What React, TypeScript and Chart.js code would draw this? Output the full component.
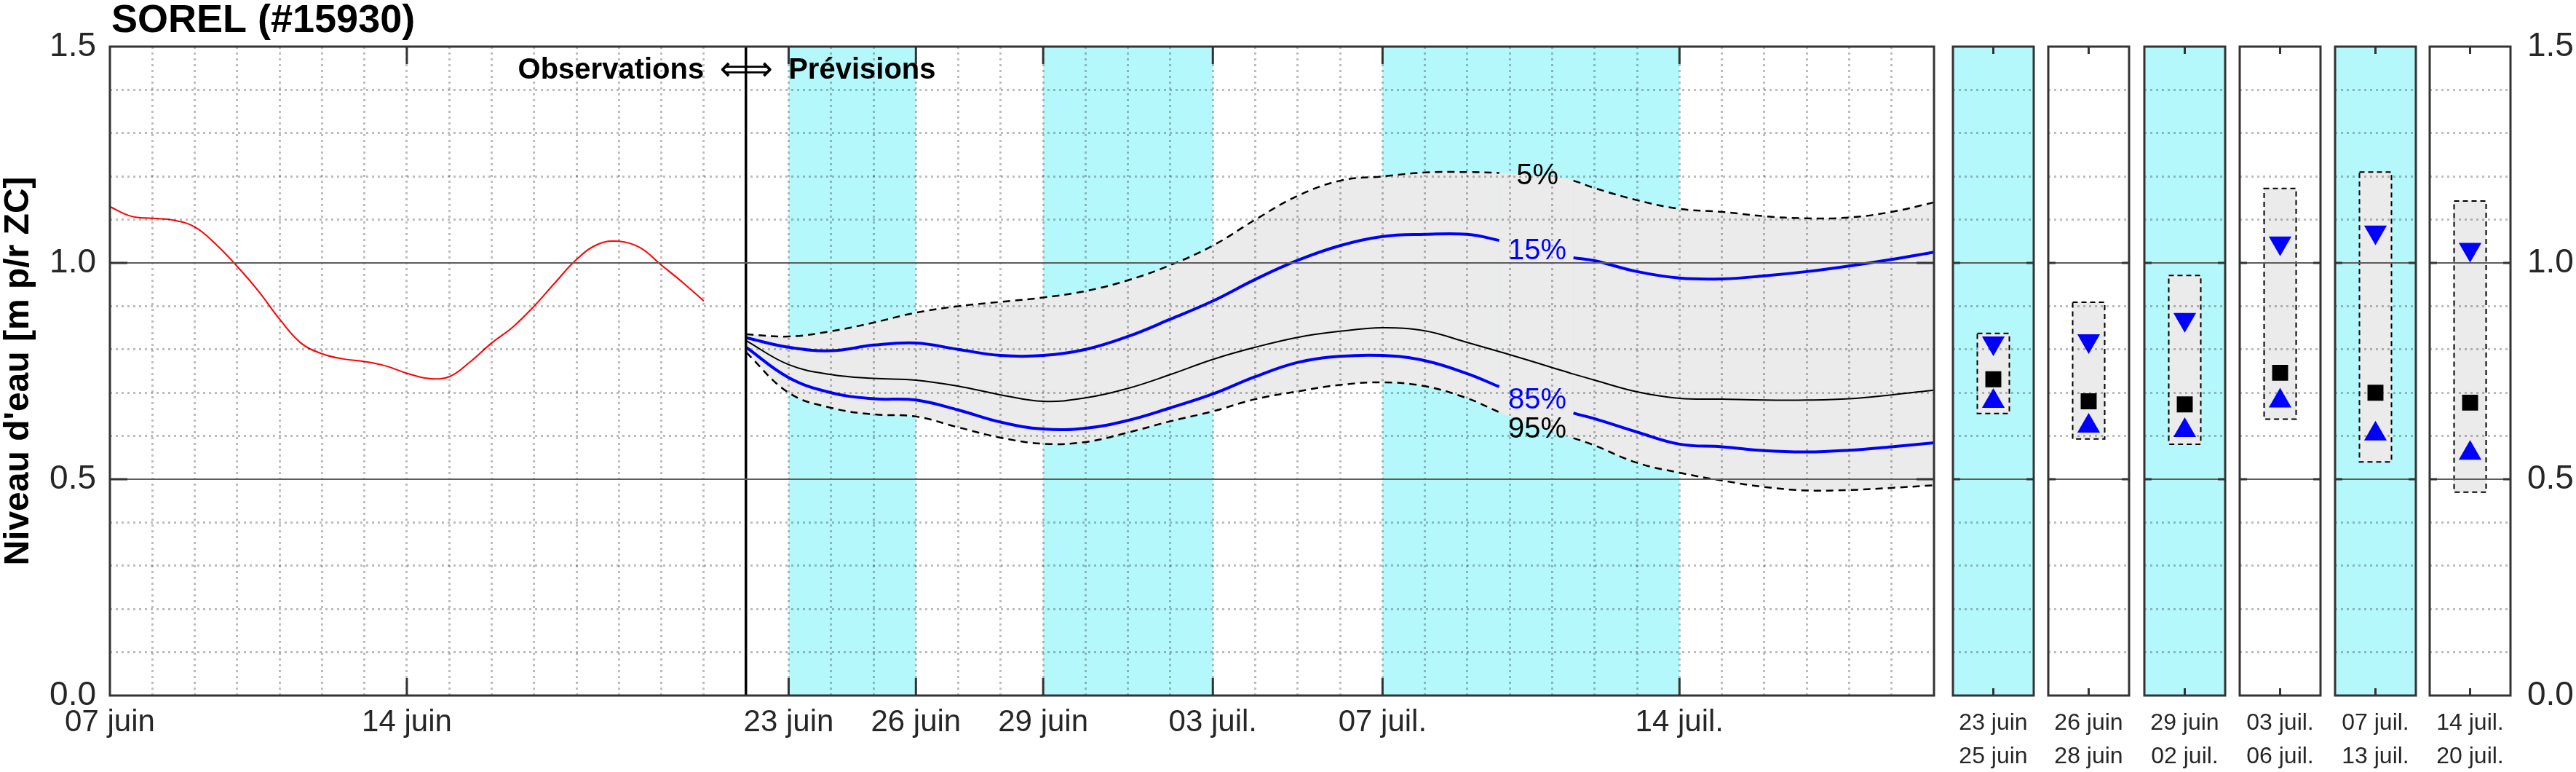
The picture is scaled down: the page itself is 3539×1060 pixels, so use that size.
import React, { useEffect, useRef } from 'react';
import { Chart, registerables } from 'chart.js';

Chart.register(...registerables);

const FONT = "'Liberation Sans', Arial, Helvetica, sans-serif";
Chart.defaults.font.family = FONT;

// ---------------- DATA ----------------
const stationTitle = 'SOREL (#15930)';
const yAxisTitle = "Niveau d'eau [m p/r ZC]";

// days counted from 07 juin 00h
const dayMin = 0;
const dayMax = 43;
const forecastStartDay = 15;

const xTickDays = [0, 7, 16, 19, 22, 26, 30, 37];
const xTickLabels = ['07 juin', '14 juin', '23 juin', '26 juin', '29 juin', '03 juil.', '07 juil.', '14 juil.'];

const yLabelValues = [0, 0.5, 1.0, 1.5];

const bandStartDays = [16, 22, 30];
const bandEndDays = [19, 26, 37];

const obsDays = [0, 0.5, 1, 1.5, 2, 2.5, 3, 3.5, 4, 4.5, 5, 5.5, 6, 6.5, 7, 7.5, 8, 8.5, 9, 9.5, 10, 10.5, 11, 11.5, 12, 12.5, 13, 13.5, 14];
const obsLevels = [1.13, 1.108, 1.103, 1.099, 1.083, 1.043, 0.992, 0.935, 0.87, 0.815, 0.79, 0.778, 0.772, 0.762, 0.745, 0.733, 0.737, 0.772, 0.815, 0.852, 0.9, 0.955, 1.008, 1.043, 1.05, 1.035, 0.995, 0.955, 0.912];

const fcDays = [15, 16, 17, 18, 19, 20, 21, 22, 23, 24, 25, 26, 27, 28, 29, 30, 31, 32, 32.75, 33, 34, 34.5, 35, 36, 37, 38, 39, 40, 41, 42, 43];
const q05 = [0.835, 0.83, 0.842, 0.862, 0.885, 0.9, 0.91, 0.92, 0.935, 0.96, 0.995, 1.04, 1.1, 1.155, 1.19, 1.2, 1.209, 1.21, 1.208, 1.207, 1.2, 1.19, 1.173, 1.145, 1.125, 1.118, 1.108, 1.103, 1.105, 1.118, 1.14];
const q15 = [0.827, 0.805, 0.797, 0.81, 0.815, 0.8, 0.786, 0.786, 0.8, 0.83, 0.87, 0.912, 0.962, 1.006, 1.04, 1.061, 1.066, 1.066, 1.052, 1.045, 1.022, 1.012, 1.005, 0.98, 0.965, 0.963, 0.97, 0.98, 0.993, 1.008, 1.025];
const q50 = [0.82, 0.765, 0.742, 0.733, 0.729, 0.715, 0.695, 0.68, 0.688, 0.71, 0.742, 0.777, 0.805, 0.828, 0.842, 0.85, 0.843, 0.816, 0.795, 0.788, 0.758, 0.743, 0.729, 0.702, 0.687, 0.685, 0.683, 0.683, 0.686, 0.695, 0.706];
const q85 = [0.805, 0.735, 0.7, 0.686, 0.683, 0.66, 0.632, 0.616, 0.618, 0.636, 0.665, 0.697, 0.737, 0.77, 0.784, 0.786, 0.774, 0.744, 0.714, 0.705, 0.67, 0.653, 0.64, 0.609, 0.581, 0.575, 0.566, 0.563, 0.567, 0.575, 0.584];
const q95 = [0.793, 0.7, 0.665, 0.65, 0.645, 0.62, 0.596, 0.582, 0.586, 0.608, 0.634, 0.657, 0.685, 0.703, 0.718, 0.724, 0.715, 0.687, 0.655, 0.645, 0.61, 0.595, 0.578, 0.538, 0.515, 0.497, 0.482, 0.474, 0.475, 0.48, 0.486];

const pctLabels = ['5%', '15%', '85%', '95%'];
const pctLabelColors = ['#000000', '#0000ff', '#0000ff', '#000000'];
const pctLabelDay = 33.65;
const pctLabelLevels = [1.2, 1.027, 0.682, 0.614];
const labelGapStart = 32.75;
const labelGapEnd = 34.5;

const panelLabels = [
  ['23 juin', '25 juin'],
  ['26 juin', '28 juin'],
  ['29 juin', '02 juil.'],
  ['03 juil.', '06 juil.'],
  ['07 juil.', '13 juil.'],
  ['14 juil.', '20 juil.'],
];
const panelQ05 = [0.837, 0.909, 0.971, 1.172, 1.21, 1.143];
const panelQ15 = [0.815, 0.82, 0.869, 1.046, 1.071, 1.031];
const panelQ50 = [0.731, 0.68, 0.673, 0.746, 0.7, 0.677];
const panelQ85 = [0.68, 0.623, 0.613, 0.681, 0.605, 0.56];
const panelQ95 = [0.652, 0.593, 0.581, 0.639, 0.54, 0.47];
const panelShaded = [true, false, true, false, true, false];

// ---------------- LAYOUT / STYLE ----------------
const W = 3539;
const H = 1060;
const PLOT_TOP = 64;
const PLOT_BOTTOM = 955;
const MAIN_LEFT = 151;
const MAIN_RIGHT = 2657;
const MAIN_CANVAS_W = 2680;
const PANEL_LEFTS = [2683, 2814, 2946, 3077, 3208, 3338];
const PANEL_W = 111;
const PANEL_PAD = 22;

const CYAN = '#b4f8fb';
const FILL_GRAY = '#ebebeb';
const FRAME = '#333333';
const TICK_COLOR = '#262626';
const DOT_COLOR = 'rgba(0,0,0,0.26)';
const MAJOR_COLOR = '#5c5c5c';
const BLUE = '#0000ff';

const yTickIndex = (c: any) => (c && c.tick ? Math.round(c.tick.value * 10) : -1);

const yGrid = {
  color: (c: any) => {
    const k = yTickIndex(c);
    if (k <= 0 || k >= 15) return 'rgba(0,0,0,0)';
    return k % 5 === 0 ? MAJOR_COLOR : DOT_COLOR;
  },
  lineWidth: (c: any) => (yTickIndex(c) % 5 === 0 ? 2 : 3),
  drawTicks: false,
  z: 1,
};
const yBorder = {
  display: false,
  dash: (c: any) => {
    const k = yTickIndex(c);
    return k % 5 === 0 ? [] : [3, 5];
  },
};
const yTickCallback = (v: any) => {
  const n = Number(v);
  return yLabelValues.some((t) => Math.abs(t - n) < 1e-6) ? n.toFixed(1) : '';
};

function framePlugin(tickLen: number, xTickVals: number[], yTickVals: number[]) {
  return {
    id: 'frame',
    afterDraw(chart: any) {
      const { ctx, chartArea: a, scales } = chart;
      ctx.save();
      ctx.strokeStyle = FRAME;
      ctx.lineWidth = 3;
      ctx.setLineDash([]);
      ctx.beginPath();
      for (const v of xTickVals) {
        const px = scales.x.getPixelForValue(v);
        ctx.moveTo(px, a.top);
        ctx.lineTo(px, a.top + tickLen);
        ctx.moveTo(px, a.bottom);
        ctx.lineTo(px, a.bottom - tickLen);
      }
      for (const v of yTickVals) {
        const py = scales.y.getPixelForValue(v);
        ctx.moveTo(a.left, py);
        ctx.lineTo(a.left + tickLen, py);
        ctx.moveTo(a.right, py);
        ctx.lineTo(a.right - tickLen, py);
      }
      ctx.stroke();
      ctx.strokeRect(a.left, a.top, a.right - a.left, a.bottom - a.top);
      ctx.restore();
    },
  };
}

const mainBackground = {
  id: 'mainBackground',
  beforeDraw(chart: any) {
    const { ctx, chartArea: a, scales } = chart;
    ctx.save();
    ctx.fillStyle = '#ffffff';
    ctx.fillRect(a.left, a.top, a.right - a.left, a.bottom - a.top);
    ctx.fillStyle = CYAN;
    for (let i = 0; i < bandStartDays.length; i++) {
      const x0 = scales.x.getPixelForValue(bandStartDays[i]);
      const x1 = scales.x.getPixelForValue(bandEndDays[i]);
      ctx.fillRect(x0, a.top, x1 - x0, a.bottom - a.top);
    }
    ctx.restore();
  },
};

const mainTexts = {
  id: 'mainTexts',
  afterDraw(chart: any) {
    const { ctx, chartArea: a, scales } = chart;
    ctx.save();
    ctx.fillStyle = '#000';
    ctx.textAlign = 'left';
    ctx.textBaseline = 'alphabetic';
    ctx.font = `bold 54px ${FONT}`;
    ctx.fillText(stationTitle, a.left + 2, 44);

    const px = scales.x.getPixelForValue(forecastStartDay);
    const ty = 97;
    ctx.textBaseline = 'middle';
    ctx.font = `46px 'DejaVu Sans', sans-serif`;
    ctx.textAlign = 'right';
    ctx.fillText('⇐', px + 2, ty + 1);
    ctx.textAlign = 'left';
    ctx.fillText('⇒', px - 2, ty + 1);
    ctx.font = `bold 40px ${FONT}`;
    ctx.textAlign = 'right';
    ctx.fillText('Observations', px - 58, ty);
    ctx.textAlign = 'left';
    ctx.fillText('Prévisions', px + 58, ty);

    ctx.font = `40px ${FONT}`;
    ctx.textAlign = 'center';
    for (let k = 0; k < pctLabels.length; k++) {
      ctx.fillStyle = pctLabelColors[k];
      ctx.fillText(pctLabels[k], scales.x.getPixelForValue(pctLabelDay), scales.y.getPixelForValue(pctLabelLevels[k]));
    }
    ctx.restore();
  },
};

const pts = (xs: number[], ys: number[]) => xs.map((x, i) => ({ x, y: ys[i] }));
const gapColor = (ctx: any) =>
  ctx.p0.parsed.x >= labelGapStart - 1e-6 && ctx.p1.parsed.x <= labelGapEnd + 1e-6 ? 'rgba(0,0,0,0)' : undefined;

function mainConfig(): any {
  const common = { pointRadius: 0, tension: 0.4, fill: false };
  return {
    type: 'line',
    data: {
      datasets: [
        { ...common, label: '5%', data: pts(fcDays, q05), borderColor: '#000', borderWidth: 2.5, borderDash: [10, 7], fill: '+1', backgroundColor: FILL_GRAY, segment: { borderColor: gapColor } },
        { ...common, label: '95%', data: pts(fcDays, q95), borderColor: '#000', borderWidth: 2.5, borderDash: [10, 7], segment: { borderColor: gapColor } },
        { ...common, label: '15%', data: pts(fcDays, q15), borderColor: BLUE, borderWidth: 4, segment: { borderColor: gapColor } },
        { ...common, label: '85%', data: pts(fcDays, q85), borderColor: BLUE, borderWidth: 4, segment: { borderColor: gapColor } },
        { ...common, label: '50%', data: pts(fcDays, q50), borderColor: '#000', borderWidth: 2 },
        { ...common, label: 'Observations', data: pts(obsDays, obsLevels), borderColor: '#ff0000', borderWidth: 2 },
      ],
    },
    options: {
      responsive: false,
      animation: false,
      devicePixelRatio: 1,
      events: [],
      layout: { padding: { left: 0, right: MAIN_CANVAS_W - MAIN_RIGHT, top: PLOT_TOP, bottom: 0 } },
      plugins: { legend: { display: false }, tooltip: { enabled: false }, filler: { drawTime: 'beforeDatasetsDraw' } },
      scales: {
        x: {
          type: 'linear',
          min: dayMin,
          max: dayMax,
          ticks: {
            stepSize: 1,
            autoSkip: false,
            maxRotation: 0,
            minRotation: 0,
            font: { size: 42 },
            color: TICK_COLOR,
            padding: 12,
            callback: (v: any) => {
              const i = xTickDays.indexOf(Number(v));
              return i >= 0 ? xTickLabels[i] : '';
            },
          },
          grid: {
            color: (c: any) => {
              if (!c || !c.tick) return 'rgba(0,0,0,0)';
              const d = c.tick.value;
              if (d === forecastStartDay) return '#000';
              if (d <= dayMin || d >= dayMax) return 'rgba(0,0,0,0)';
              return DOT_COLOR;
            },
            lineWidth: (c: any) => (c && c.tick && c.tick.value === forecastStartDay ? 3.5 : 3),
            drawTicks: false,
            z: 1,
          },
          border: {
            display: false,
            dash: (c: any) => (c && c.tick && c.tick.value === forecastStartDay ? [] : [3, 5]),
          },
          afterFit: (s: any) => {
            s.height = H - PLOT_BOTTOM;
          },
        },
        y: {
          type: 'linear',
          min: 0,
          max: 1.5,
          ticks: { stepSize: 0.1, autoSkip: false, font: { size: 46 }, color: TICK_COLOR, padding: 19, callback: yTickCallback },
          grid: yGrid,
          border: yBorder,
          title: { display: true, text: yAxisTitle, color: '#000', font: { size: 48, weight: 'bold', lineHeight: 1 }, padding: { top: 2, bottom: 0 } },
          afterFit: (s: any) => {
            s.width = MAIN_LEFT;
          },
        },
      },
    },
    plugins: [mainBackground, mainTexts, framePlugin(24, xTickDays.slice(1), [0.5, 1.0])],
  };
}

function panelConfig(i: number): any {
  const last = i === panelLabels.length - 1;
  const marker = { type: 'line', showLine: false, pointBorderWidth: 0 };
  const bg = {
    id: 'panelBackground',
    beforeDraw(chart: any) {
      const { ctx, chartArea: a } = chart;
      ctx.save();
      ctx.fillStyle = panelShaded[i] ? CYAN : '#ffffff';
      ctx.fillRect(a.left, a.top, a.right - a.left, a.bottom - a.top);
      ctx.restore();
    },
  };
  const dashedBox = {
    id: 'dashedBox',
    afterDatasetsDraw(chart: any) {
      const { ctx } = chart;
      const meta = chart.getDatasetMeta(3);
      ctx.save();
      ctx.strokeStyle = '#000';
      ctx.lineWidth = 2;
      ctx.setLineDash([7, 5]);
      for (const el of meta.data) {
        const p = el.getProps(['x', 'y', 'base', 'width'], true);
        const top = Math.min(p.y, p.base);
        const h = Math.abs(p.base - p.y);
        ctx.strokeRect(p.x - p.width / 2, top, p.width, h);
      }
      ctx.restore();
    },
  };
  return {
    type: 'bar',
    data: {
      labels: [panelLabels[i]],
      datasets: [
        { ...marker, label: '15%', data: [panelQ15[i]], pointStyle: 'triangle', pointRotation: 180, pointRadius: 18, pointBackgroundColor: BLUE, order: 1 },
        { ...marker, label: '85%', data: [panelQ85[i]], pointStyle: 'triangle', pointRotation: 0, pointRadius: 18, pointBackgroundColor: BLUE, order: 1 },
        { ...marker, label: '50%', data: [panelQ50[i]], pointStyle: 'rect', pointRadius: 15.5, pointBackgroundColor: '#000', order: 0 },
        { type: 'bar', label: '5%-95%', data: [[panelQ95[i], panelQ05[i]]], backgroundColor: FILL_GRAY, borderWidth: 0, barThickness: 44, order: 5 },
      ],
    },
    options: {
      responsive: false,
      animation: false,
      devicePixelRatio: 1,
      events: [],
      layout: { padding: { left: PANEL_PAD, right: last ? 0 : PANEL_PAD, top: PLOT_TOP, bottom: 0 } },
      plugins: { legend: { display: false }, tooltip: { enabled: false } },
      scales: {
        x: {
          type: 'category',
          offset: true,
          grid: { display: false, drawTicks: false },
          border: { display: false },
          ticks: { autoSkip: false, maxRotation: 0, minRotation: 0, font: { size: 32, lineHeight: 1.45 }, color: TICK_COLOR, padding: 14.8 },
          afterFit: (s: any) => {
            s.height = H - PLOT_BOTTOM;
          },
        },
        y: {
          type: 'linear',
          position: last ? 'right' : 'left',
          min: 0,
          max: 1.5,
          ticks: { display: last, stepSize: 0.1, autoSkip: false, font: { size: 46 }, color: TICK_COLOR, padding: 23, callback: yTickCallback },
          grid: yGrid,
          border: yBorder,
          afterFit: (s: any) => {
            s.width = last ? W - (PANEL_LEFTS[i] + PANEL_W) : 0;
          },
        },
      },
    },
    plugins: [bg, dashedBox, framePlugin(10, [0], [0.5, 1.0])],
  };
}

export default function App() {
  const mainRef = useRef<HTMLCanvasElement | null>(null);
  const panelRefs = useRef<(HTMLCanvasElement | null)[]>([]);

  useEffect(() => {
    const charts: Chart[] = [];
    if (mainRef.current) charts.push(new Chart(mainRef.current, mainConfig()));
    panelRefs.current.forEach((c, i) => {
      if (c) charts.push(new Chart(c, panelConfig(i)));
    });
    return () => charts.forEach((c) => c.destroy());
  }, []);

  return (
    <div style={{ position: 'absolute', left: 0, top: 0, width: W, height: H, background: '#ffffff', overflow: 'hidden' }}>
      <canvas ref={mainRef} width={MAIN_CANVAS_W} height={H} style={{ position: 'absolute', left: 0, top: 0 }} />
      {PANEL_LEFTS.map((pl, i) => {
        const last = i === PANEL_LEFTS.length - 1;
        const left = pl - PANEL_PAD;
        const width = last ? W - left : PANEL_W + 2 * PANEL_PAD;
        return (
          <canvas
            key={i}
            ref={(el) => {
              panelRefs.current[i] = el;
            }}
            width={width}
            height={H}
            style={{ position: 'absolute', left, top: 0 }}
          />
        );
      })}
    </div>
  );
}
